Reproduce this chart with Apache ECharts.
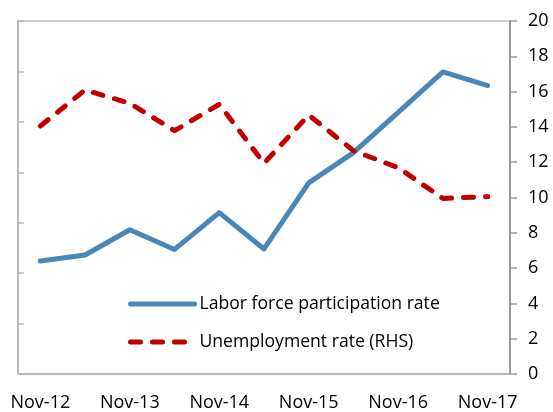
<!DOCTYPE html>
<html>
<head>
<meta charset="utf-8">
<script src="https://cdn.jsdelivr.net/npm/echarts@6/dist/echarts.min.js"></script>
<style>
  html, body { margin: 0; padding: 0; background: #fff; }
  #main { width: 553px; height: 412px; }
</style>
</head>
<body>
<div id="main"></div>
<script>
var months = ['Nov-12', 'May-13', 'Nov-13', 'May-14', 'Nov-14', 'May-15', 'Nov-15', 'May-16', 'Nov-16', 'May-17', 'Nov-17']

// LHS is unlabelled in the original, values are on an arbitrary scale
var participation = [62.24, 62.36, 62.86, 62.47, 63.2, 62.48, 63.79, 64.39, 65.19, 65.99, 65.72]
var unemployment = [14.05, 16.09, 15.34, 13.79, 15.28, 11.94, 14.67, 12.65, 11.69, 9.95, 10.05]

var rhsTicks = [0, 20, 2]

var font = 'Open Sans'

var option = {
    animation: false,
    textStyle: { fontFamily: font },
    grid: {
        left: 18, right: 43, top: 21, bottom: 38,
        show: true,
        borderColor: '#c0c0c0',
        borderWidth: 1.5
    },
    legend: {
        orient: 'vertical',
        left: 128,
        top: 295,
        padding: 0,
        itemWidth: 64,
        itemHeight: 18,
        itemGap: 20,
        itemTextGap: 3,
        itemStyle: { opacity: 0 },
        lineStyle: { width: 'inherit', type: 'inherit', cap: 'round' },
        textStyle: { fontFamily: font, fontSize: 17.6, color: '#000' },
        data: ['Labor force participation rate', 'Unemployment rate (RHS)']
    },
    xAxis: {
        type: 'category',
        data: months,
        boundaryGap: true,
        axisLine: { lineStyle: { color: '#b8b8b8', width: 2 } },
        axisTick: { inside: true, length: 6, lineStyle: { color: '#b8b8b8', width: 1.5 } },
        axisLabel: { interval: 1, margin: 20, fontSize: 18, color: '#000', fontFamily: font },
        splitLine: { show: false }
    },
    yAxis: [{
        type: 'value',
        position: 'left',
        min: 60, max: 67, interval: 1,
        axisLine: { show: true, lineStyle: { color: '#b8b8b8', width: 2 } },
        axisTick: { show: true, inside: true, length: 6, lineStyle: { color: '#b8b8b8', width: 1.5 } },
        axisLabel: { show: false },
        splitLine: { show: false }
    }, {
        type: 'value',
        position: 'right',
        min: rhsTicks[0], max: rhsTicks[1], interval: rhsTicks[2],
        axisLine: { show: true, lineStyle: { color: '#999', width: 2 } },
        axisTick: { show: true, inside: false, length: 7, lineStyle: { color: '#999', width: 1.5 } },
        axisLabel: { margin: 18, fontSize: 18, color: '#000', fontFamily: font },
        splitLine: { show: false }
    }],
    series: [{
        name: 'Labor force participation rate',
        type: 'line',
        yAxisIndex: 0,
        data: participation,
        symbol: 'none',
        lineStyle: { color: '#4a86b6', width: 5, cap: 'round', join: 'round' },
        itemStyle: { color: '#4a86b6' }
    }, {
        name: 'Unemployment rate (RHS)',
        type: 'line',
        yAxisIndex: 1,
        data: unemployment,
        symbol: 'none',
        lineStyle: { color: '#c00000', width: 5, type: [10, 12], cap: 'round', join: 'round' },
        itemStyle: { color: '#c00000' }
    }]
}

var myChart = echarts.init(document.getElementById('main'))
myChart.setOption(option)
</script>
</body>
</html>
